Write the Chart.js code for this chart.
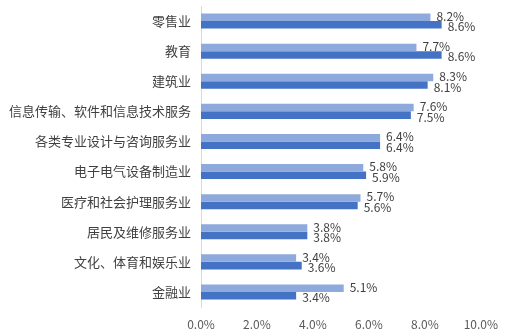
<!DOCTYPE html>
<html>
<head>
<meta charset="utf-8">
<script src="https://cdn.jsdelivr.net/npm/chart.js@4"></script>
<style>
  html, body { margin: 0; padding: 0; background: #fff; }
  #wrap { width: 508px; height: 329px; }
</style>
</head>
<body>
<div id="wrap"><canvas id="mainChart" width="508" height="329"></canvas></div>
<script>
const categories = [
  "零售业", "教育", "建筑业", "信息传输、软件和信息技术服务",
  "各类专业设计与咨询服务业", "电子电气设备制造业", "医疗和社会护理服务业",
  "居民及维修服务业", "文化、体育和娱乐业", "金融业"
];
const seriesLight = [8.2, 7.7, 8.3, 7.6, 6.4, 5.8, 5.7, 3.8, 3.4, 5.1];
const seriesDark = [8.6, 8.6, 8.1, 7.5, 6.4, 5.9, 5.6, 3.8, 3.6, 3.4];
const xTicks = [0, 2, 4, 6, 8, 10];

const fontFamily = "'Noto Sans CJK SC', 'Noto Sans', sans-serif";

// Draw value labels at the end of each bar
const valueLabels = {
  id: "valueLabels",
  afterDatasetsDraw(chart) {
    const ctx = chart.ctx;
    ctx.save();
    ctx.font = "12px " + fontFamily;
    ctx.fillStyle = "#404040";
    ctx.textAlign = "left";
    ctx.textBaseline = "middle";
    chart.data.datasets.forEach((ds, i) => {
      const meta = chart.getDatasetMeta(i);
      meta.data.forEach((bar, j) => {
        const dy = i === 0 ? -1 : 2;
        ctx.fillText(ds.data[j].toFixed(1) + "%", bar.x + 6, bar.y + dy);
      });
    });
    ctx.restore();
  },
};

const ctx = document.getElementById("mainChart").getContext("2d");
new Chart(ctx, {
  type: "bar",
  data: {
    labels: categories,
    datasets: [
      {
        label: "A",
        data: seriesLight,
        backgroundColor: "#8EA9DB",
        categoryPercentage: 0.5,
        barPercentage: 1.0,
      },
      {
        label: "B",
        data: seriesDark,
        backgroundColor: "#4472C4",
        categoryPercentage: 0.5,
        barPercentage: 1.0,
      },
    ],
  },
  options: {
    indexAxis: "y",
    responsive: false,
    animation: false,
    layout: { padding: { top: 6, right: 26, bottom: 0, left: 0 } },
    plugins: {
      legend: { display: false },
      tooltip: { enabled: false },
    },
    scales: {
      x: {
        min: 0,
        max: 10,
        afterBuildTicks: (scale) => {
          scale.ticks = xTicks.map((v) => ({ value: v }));
        },
        afterFit: (scale) => { scale.height = 22; },
        grid: { display: false, drawTicks: false },
        border: { display: false },
        ticks: {
          padding: 10,
          color: "#595959",
          font: { family: fontFamily, size: 12 },
          callback: (v) => Number(v).toFixed(1) + "%",
        },
      },
      y: {
        afterFit: (scale) => {
          scale.width = 201;
          scale.paddingTop = 0;
          scale.paddingBottom = 0;
        },
        grid: { display: false, drawTicks: false },
        border: { display: true, color: "#D9D9D9" },
        ticks: {
          padding: 10,
          color: "#404040",
          font: { family: fontFamily, size: 13 },
        },
      },
    },
  },
  plugins: [valueLabels],
});
</script>
</body>
</html>
